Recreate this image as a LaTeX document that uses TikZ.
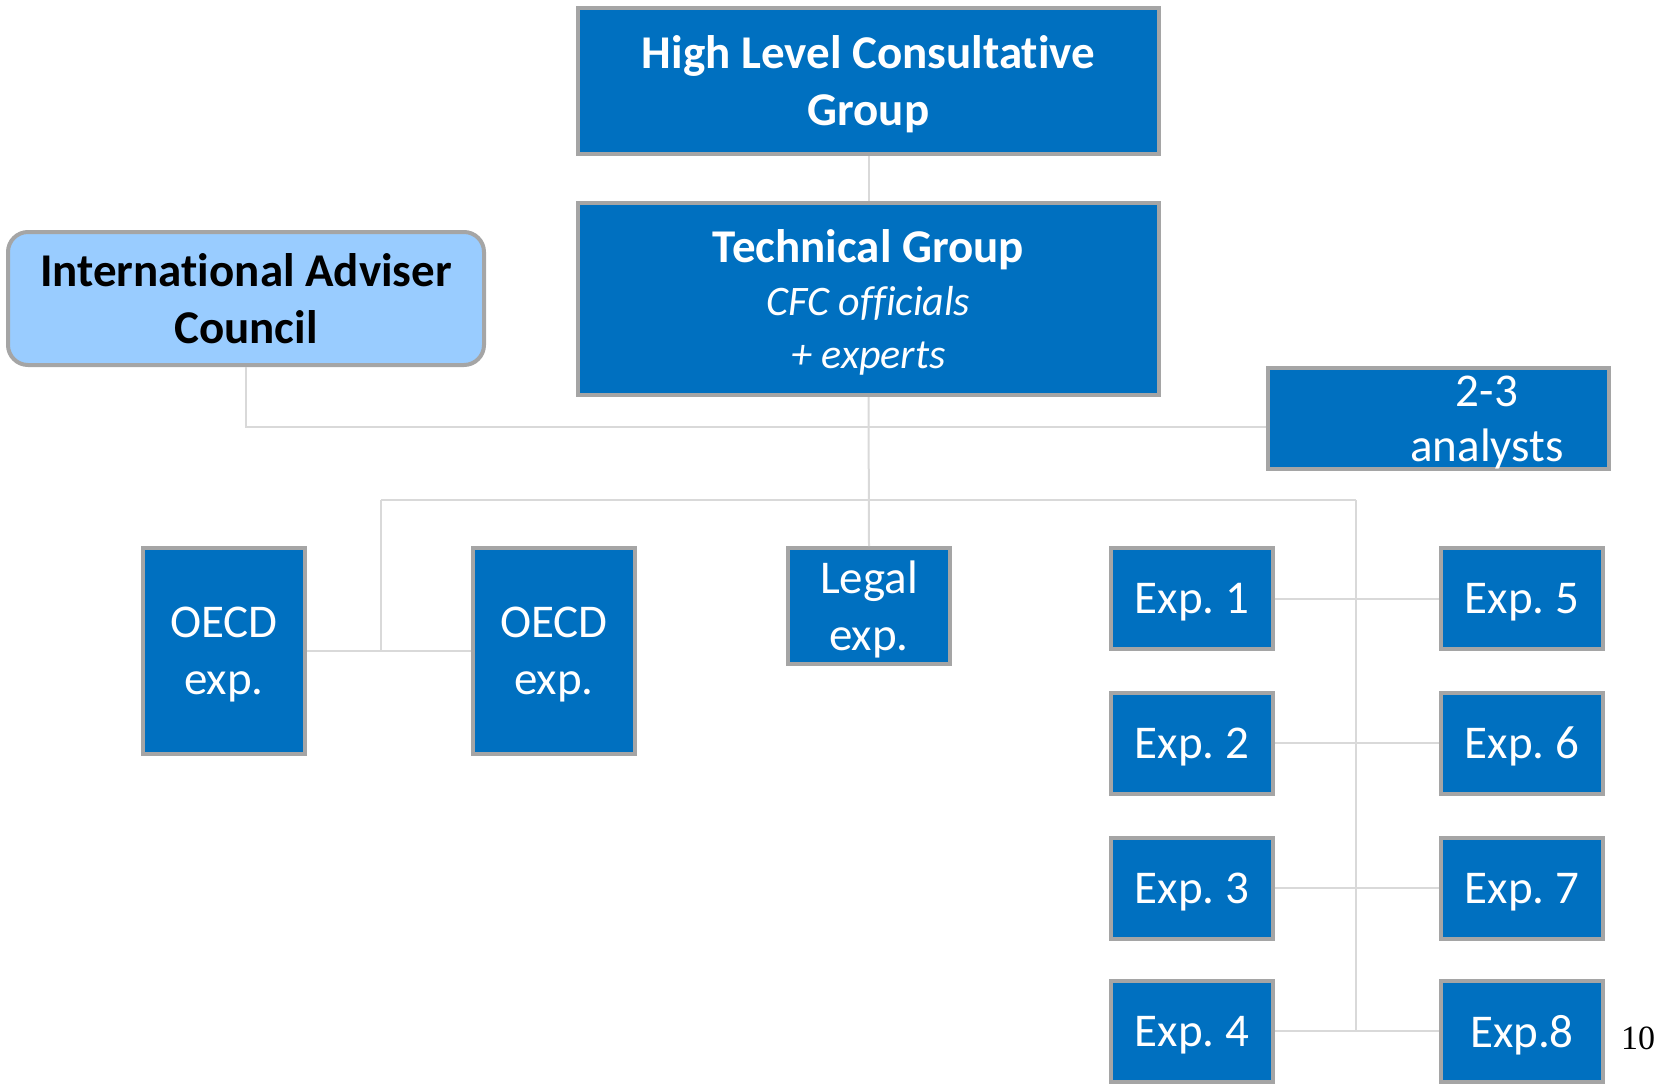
\documentclass[tikz,border=0pt]{standalone}
\usepackage{fontspec}
\setmainfont[Ligatures=NoCommon]{Carlito}
\newfontfamily\pagefont{Liberation Serif}
\frenchspacing
\begin{document}
\begin{tikzpicture}[x=1pt,y=-1pt,
  box/.style={draw=boxedge, line width=4pt, fill=boxblue, text=white,
    inner sep=0pt, align=center, text depth=0pt,
    font=\fontsize{47}{57}\selectfont},
  softbox/.style={draw=boxedge, line width=4pt, fill=lightblue, text=black,
    inner sep=0pt, align=center, rounded corners=20pt,
    font=\fontsize{47}{57}\selectfont},
  link/.style={draw=linkgray, line width=2pt},
  expbox/.style={box, minimum width=162pt, minimum height=101pt}]
\definecolor{boxblue}{HTML}{0070C0}
\definecolor{boxedge}{HTML}{A5A5A5}
\definecolor{lightblue}{HTML}{99CCFF}
\definecolor{linkgray}{HTML}{D9D9D9}
\useasboundingbox (0,0) rectangle (1658,1085);

% upper governance boxes
\node[box, minimum width=581pt, minimum height=146pt] (hl) at (868.5,81)
  {\bfseries High Level Consultative\\\bfseries Group};
\node[box, minimum width=581pt, minimum height=192pt] (tg) at (868.5,299)
  {\bfseries Technical Group\\[-4pt]
   {\fontsize{42}{50}\selectfont\itshape CFC officials}\\[-4pt]
   {\fontsize{42}{50}\selectfont\itshape + experts}};
\node[softbox, minimum width=476pt, minimum height=133pt] (iac) at (246,298.5)
  {\bfseries International Adviser\\\bfseries Council};
\node[box, minimum width=341pt, minimum height=101pt] (an) at (1438.5,418.5) {};
\node[text=white, align=center, inner sep=0pt, font=\fontsize{47}{55}\selectfont]
  (antext) at (1487,423) {2-3\\analysts};

% expert boxes
\node[box, minimum width=162pt, minimum height=206pt] (o1) at (224,651) {OECD\\exp.};
\node[box, minimum width=162pt, minimum height=206pt] (o2) at (554,651) {OECD\\exp.};
\node[box, minimum width=162pt, minimum height=116pt] (lg) at (869,606) {Legal\\exp.};
\node[expbox] (e1) at (1192,598.5) {Exp. 1};
\node[expbox] (e2) at (1192,743) {Exp. 2};
\node[expbox] (e3) at (1192,888) {Exp. 3};
\node[expbox] (e4) at (1192,1031) {Exp. 4};
\node[expbox] (e5) at (1522,598.5) {Exp. 5};
\node[expbox] (e6) at (1522,743) {Exp. 6};
\node[expbox] (e7) at (1522,888) {Exp. 7};
\node[expbox] (e8) at (1522,1031) {Exp.8};

% page number
\node[anchor=base west, inner sep=0pt, font=\pagefont\fontsize{34}{40}\selectfont]
  (pg) at (1621,1049) {10};

% connectors
\coordinate (bl) at (381,500);
\coordinate (br) at (1356,500);
\begin{scope}[on background layer/.try]
\draw[link] (hl.south) -- (tg.north);
\draw[link] (tg.south) -- (lg.north);
\draw[link] (iac.south) |- ([yshift=-8pt]an.west);
\draw[link] (bl) -- (br);
\draw[link] (bl) -- (bl |- o1.east);
\draw[link] (o1.east) -- (o2.west);
\draw[link] (br) -- (br |- e4.east);
\draw[link] (e1.east) -- (e5.west);
\draw[link] (e2.east) -- (e6.west);
\draw[link] (e3.east) -- (e7.west);
\draw[link] (e4.east) -- (e8.west);
\end{scope}
\end{tikzpicture}
\end{document}
